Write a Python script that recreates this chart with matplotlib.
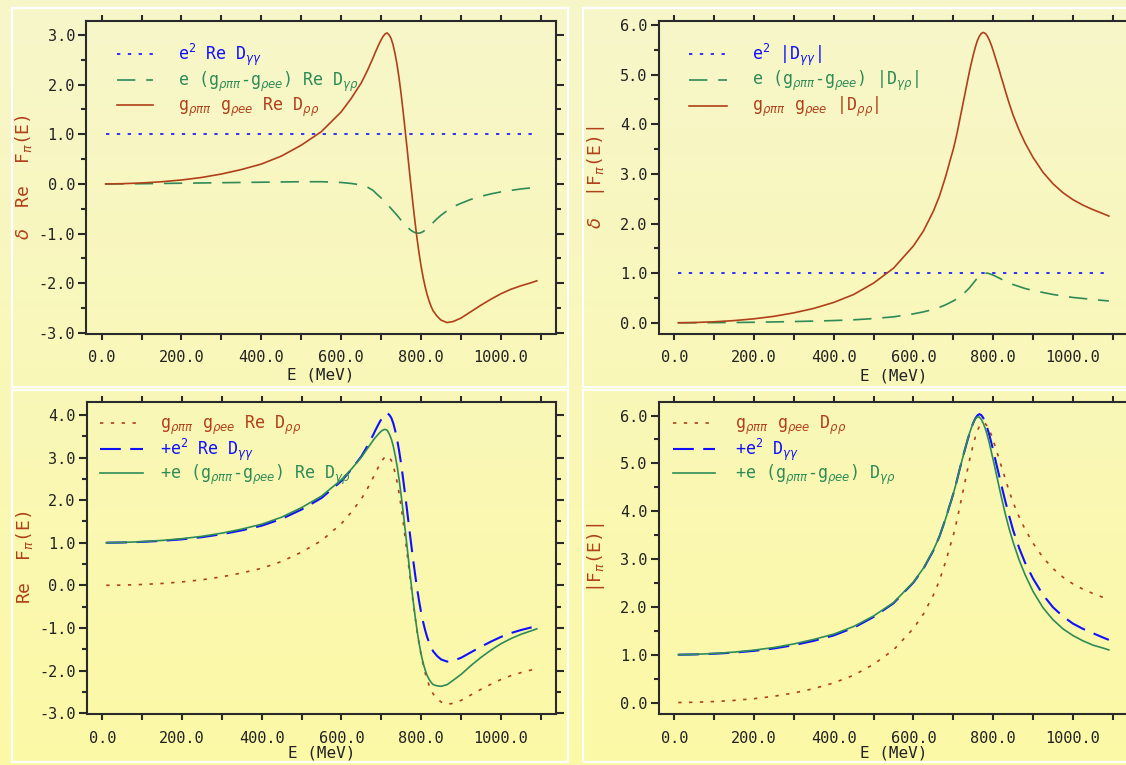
import numpy as np
import matplotlib
matplotlib.use("Agg")
import matplotlib.pyplot as plt
from matplotlib.patches import Rectangle
from matplotlib.ticker import MultipleLocator, FormatStrFormatter

# ---------------- data ----------------
E_MEV = [10, 50, 100, 150, 200, 250, 300, 350, 400, 450, 500, 550, 600, 625, 650, 665,
         680, 685, 690, 695, 700, 705, 710, 715, 720, 725, 730, 735, 740, 745, 750, 755,
         760, 765, 770, 775, 780, 785, 790, 795, 800, 805, 810, 815, 820, 825, 830,
         840, 850, 865, 880, 900, 925, 950, 975, 1000, 1025, 1050, 1075, 1090]

# top-left : delta Re F
re_gg = [1.0] * len(E_MEV)
re_gr = [0.0, 0.002, 0.005, 0.01, 0.015, 0.02, 0.025, 0.03, 0.035, 0.04, 0.045, 0.045, 0.03, 0.01,
         -0.02, -0.06, -0.13, -0.17, -0.21, -0.245, -0.28, -0.32, -0.36, -0.405, -0.45, -0.495,
         -0.54, -0.585, -0.63, -0.68, -0.73, -0.775, -0.82, -0.86, -0.9, -0.935, -0.96, -0.98,
         -0.99, -0.99, -0.98, -0.96, -0.93, -0.9, -0.86, -0.82, -0.78,
         -0.7, -0.63, -0.54, -0.46, -0.39, -0.31, -0.25, -0.2, -0.16, -0.13, -0.1, -0.08, -0.07]
re_rr = [0.0, 0.005, 0.02, 0.044, 0.08, 0.13, 0.2, 0.29, 0.4, 0.56, 0.78, 1.05, 1.45, 1.72,
         2.03, 2.27, 2.54, 2.64, 2.73, 2.82, 2.9, 2.97, 3.02, 3.04, 3.0, 2.93, 2.8, 2.62, 2.4,
         2.13, 1.82, 1.47, 1.1, 0.72, 0.33, -0.05, -0.42, -0.77, -1.1, -1.39, -1.65, -1.87,
         -2.06, -2.22, -2.35, -2.46, -2.55,
         -2.66, -2.74, -2.79, -2.77, -2.7, -2.57, -2.44, -2.32, -2.21, -2.12, -2.05, -1.99, -1.95]

# top-right : delta |F|
abs_gg = [1.0] * len(E_MEV)
abs_gr = [0.0, 0.001, 0.003, 0.006, 0.01, 0.017, 0.025, 0.034, 0.045, 0.06, 0.085, 0.12, 0.18,
          0.22, 0.27, 0.31, 0.36, 0.38, 0.4, 0.42, 0.44, 0.465, 0.49, 0.52, 0.55, 0.585, 0.62,
          0.66, 0.7, 0.75, 0.8, 0.85, 0.9, 0.94, 0.97, 0.99, 1.0, 1.0, 0.99, 0.975, 0.96, 0.94,
          0.92, 0.9, 0.88, 0.86, 0.84,
          0.8, 0.77, 0.73, 0.69, 0.65, 0.61, 0.57, 0.54, 0.51, 0.49, 0.47, 0.45, 0.44]
abs_rr = [0.0, 0.005, 0.02, 0.044, 0.08, 0.13, 0.2, 0.29, 0.41, 0.57, 0.8, 1.1, 1.55, 1.85,
          2.25, 2.55, 2.93, 3.07, 3.22, 3.36, 3.5, 3.67, 3.85, 4.05, 4.25, 4.45, 4.65, 4.85,
          5.05, 5.23, 5.4, 5.55, 5.68, 5.77, 5.83, 5.85, 5.83, 5.78, 5.7, 5.6, 5.48, 5.35, 5.22,
          5.09, 4.95, 4.82, 4.68,
          4.42, 4.18, 3.88, 3.62, 3.33, 3.03, 2.8, 2.62, 2.48, 2.37, 2.28, 2.2, 2.15]

# bottom-left : Re F (cumulative sums)
cum_re_rr = re_rr
cum_re_gg = [1.0, 1.005, 1.02, 1.044, 1.08, 1.13, 1.2, 1.29, 1.4, 1.56, 1.78, 2.05, 2.45, 2.72,
             3.03, 3.27, 3.54, 3.64, 3.73, 3.82, 3.9, 3.97, 4.02, 4.04, 4.0, 3.93, 3.8, 3.62, 3.4,
             3.13, 2.82, 2.47, 2.1, 1.72, 1.33, 0.95, 0.58, 0.23, -0.1, -0.39, -0.65, -0.87,
             -1.06, -1.22, -1.35, -1.46, -1.55,
             -1.66, -1.74, -1.79, -1.77, -1.7, -1.57, -1.44, -1.32, -1.21, -1.12, -1.05, -0.99, -0.95]
cum_re_gr = [1.0, 1.007, 1.025, 1.054, 1.095, 1.15, 1.225, 1.32, 1.435, 1.6, 1.825, 2.095, 2.48,
             2.73, 3.01, 3.21, 3.41, 3.47, 3.52, 3.575, 3.62, 3.65, 3.66, 3.635, 3.55, 3.435, 3.26,
             3.035, 2.77, 2.45, 2.09, 1.695, 1.28, 0.86, 0.43, 0.015, -0.38, -0.75, -1.09, -1.38,
             -1.63, -1.83, -1.99, -2.12, -2.21, -2.28, -2.33,
             -2.36, -2.37, -2.33, -2.23, -2.09, -1.88, -1.69, -1.52, -1.37, -1.25, -1.15, -1.07, -1.02]

# bottom-right : |F| (cumulative sums)
cum_abs_rr = abs_rr
cum_abs_gg = [1.0, 1.005, 1.02, 1.044, 1.08, 1.13, 1.2, 1.29, 1.403, 1.564, 1.789, 2.076, 2.51, 2.8,
              3.18, 3.47, 3.83, 3.96, 4.1, 4.23, 4.37, 4.52, 4.68, 4.85, 5.01, 5.17, 5.32, 5.47,
              5.61, 5.74, 5.85, 5.94, 6.0, 6.03, 6.01, 5.95, 5.86, 5.74, 5.6, 5.44, 5.27, 5.09,
              4.91, 4.74, 4.56, 4.39, 4.22,
              3.9, 3.6, 3.23, 2.92, 2.59, 2.25, 1.99, 1.8, 1.65, 1.54, 1.45, 1.36, 1.31]
cum_abs_gr = [1.0, 1.007, 1.025, 1.054, 1.095, 1.15, 1.225, 1.32, 1.43, 1.59, 1.81, 2.09, 2.52, 2.81,
              3.19, 3.47, 3.83, 3.96, 4.1, 4.23, 4.37, 4.52, 4.68, 4.85, 5.01, 5.17, 5.33, 5.48,
              5.62, 5.74, 5.85, 5.93, 5.97, 5.97, 5.92, 5.84, 5.73, 5.59, 5.43, 5.25, 5.07, 4.88,
              4.69, 4.5, 4.31, 4.13, 3.95,
              3.63, 3.35, 2.98, 2.67, 2.32, 1.98, 1.73, 1.54, 1.4, 1.29, 1.2, 1.14, 1.1]

LEG_TL = [r"e$^2$ Re D$_{\gamma\gamma}$",
          r"e (g$_{\rho\pi\pi}$-g$_{\rho ee}$) Re D$_{\gamma\rho}$",
          r"g$_{\rho\pi\pi}$ g$_{\rho ee}$ Re D$_{\rho\rho}$"]
LEG_TR = [r"e$^2$ |D$_{\gamma\gamma}$|",
          r"e (g$_{\rho\pi\pi}$-g$_{\rho ee}$) |D$_{\gamma\rho}$|",
          r"g$_{\rho\pi\pi}$ g$_{\rho ee}$ |D$_{\rho\rho}$|"]
LEG_BL = [r"g$_{\rho\pi\pi}$ g$_{\rho ee}$ Re D$_{\rho\rho}$",
          r"+e$^2$ Re D$_{\gamma\gamma}$",
          r"+e (g$_{\rho\pi\pi}$-g$_{\rho ee}$) Re D$_{\gamma\rho}$"]
LEG_BR = [r"g$_{\rho\pi\pi}$ g$_{\rho ee}$ D$_{\rho\rho}$",
          r"+e$^2$ D$_{\gamma\gamma}$",
          r"+e (g$_{\rho\pi\pi}$-g$_{\rho ee}$) D$_{\gamma\rho}$"]
YLAB = [r"$\delta$  Re  F$_{\pi}$(E)", r"$\delta$  |F$_{\pi}$(E)|", r"Re  F$_{\pi}$(E)", r"|F$_{\pi}$(E)|"]
XLAB = "E (MeV)"

# ---------------- style ----------------
BLUE = "#1010ff"
GREEN = "#2e8b57"
BROWN = "#b0401a"
AXC = "#2a2a2a"

plt.rcParams["font.family"] = ["DejaVu Sans Mono", "DejaVu Sans"]
plt.rcParams["mathtext.fontset"] = "custom"
plt.rcParams["mathtext.rm"] = "DejaVu Sans Mono"
plt.rcParams["mathtext.it"] = "DejaVu Sans:italic"
plt.rcParams["mathtext.bf"] = "DejaVu Sans:bold"

W, H = 1126, 765
fig = plt.figure(figsize=(W / 100, H / 100), dpi=100)

# background gradient
bg = fig.add_axes([0, 0, 1, 1], zorder=-10)
t = np.linspace(0, 1, 256)[:, None, None]
top = np.array([247, 246, 202]) / 255.0
bot = np.array([252, 249, 166]) / 255.0
bg.imshow(top * (1 - t) + bot * t, aspect="auto", extent=[0, 1, 0, 1])
bg.set_xlim(0, 1); bg.set_ylim(0, 1)
bg.axis("off")


def frac_rect(x0, y0, x1, y1):
    return Rectangle((x0 / W, 1 - y1 / H), (x1 - x0) / W, (y1 - y0) / H,
                     transform=fig.transFigure, fill=False, ec="white", lw=1.6, zorder=-5)


for r in [(12, 8, 568, 386.5), (583, 8, 1140, 386.5), (12, 390, 568, 762), (583, 390, 1140, 762)]:
    fig.patches.append(frac_rect(*r))


def make_ax(left, top_, right, bottom):
    return fig.add_axes([left / W, 1 - bottom / H, (right - left) / W, (bottom - top_) / H])


def style(ax, ylim, ylabel, lab_x, xlab_y):
    ax.patch.set_alpha(0)
    ax.set_xlim(-39, 1138)
    ax.set_ylim(*ylim)
    for s in ax.spines.values():
        s.set_color(AXC)
        s.set_linewidth(1.5)
    ax.xaxis.set_major_locator(MultipleLocator(200))
    ax.xaxis.set_minor_locator(MultipleLocator(100))
    ax.yaxis.set_major_locator(MultipleLocator(1.0))
    ax.yaxis.set_minor_locator(MultipleLocator(0.5))
    ax.xaxis.set_major_formatter(FormatStrFormatter("%.1f"))
    ax.yaxis.set_major_formatter(FormatStrFormatter("%.1f"))
    ax.tick_params(which="both", direction="out", top=True, right=True, color=AXC,
                   width=1.5, labelsize=11, labelcolor="#222222")
    ax.tick_params(axis="x", which="both", length=4, pad=8)
    ax.tick_params(axis="y", which="major", length=6, pad=2)
    ax.tick_params(axis="y", which="minor", length=3.5)
    ax.set_xlabel(XLAB, fontsize=11.5, color="#222222")
    ax.set_ylabel(ylabel, fontsize=13, color=BROWN)
    ax.yaxis.set_label_coords(lab_x, 0.5)
    ax.xaxis.set_label_coords(0.5, xlab_y)


def legend(ax, handles, labels, x, y, hl, pad, sp):
    lg = ax.legend(handles, labels, loc="upper left", bbox_to_anchor=(x, y),
                   frameon=False, fontsize=12, handlelength=hl, handletextpad=pad,
                   labelspacing=sp, borderpad=0, borderaxespad=0)
    for txt, h in zip(lg.get_texts(), handles):
        txt.set_color(h.get_color())


lw = 1.2
DOT = (0, (2, 4.5))
DASH = (0, (11, 6.5))
DASH_B = (0, (10, 4.5))

# ---- top-left
ax1 = make_ax(86, 21, 556, 333.5)
style(ax1, (-3.01, 3.28), YLAB[0], -0.11, -0.11)
l1, = ax1.plot(E_MEV, re_gg, color=BLUE, lw=lw, ls=DOT)
l2, = ax1.plot(E_MEV, re_gr, color=GREEN, lw=lw, ls=DASH)
l3, = ax1.plot(E_MEV, re_rr, color=BROWN, lw=lw)
legend(ax1, [l1, l2, l3], LEG_TL, 0.066, 0.935, 2.15, 1.5, 0.12)

# ---- top-right
ax2 = make_ax(658.7, 21, 1128, 333.7)
style(ax2, (-0.22, 6.08), YLAB[1], -0.11, -0.11)
m1, = ax2.plot(E_MEV, abs_gg, color=BLUE, lw=lw, ls=DOT)
m2, = ax2.plot(E_MEV, abs_gr, color=GREEN, lw=lw, ls=DASH)
m3, = ax2.plot(E_MEV, abs_rr, color=BROWN, lw=lw)
legend(ax2, [m1, m2, m3], LEG_TR, 0.0646, 0.935, 2.28, 1.5, 0.1)

# ---- bottom-left
ax3 = make_ax(86.7, 401.7, 556, 714)
style(ax3, (-3.02, 4.31), YLAB[2], -0.11, -0.1)
n1, = ax3.plot(E_MEV, cum_re_rr, color=BROWN, lw=lw, ls=DOT)
n2, = ax3.plot(E_MEV, cum_re_gg, color=BLUE, lw=1.5, ls=DASH_B)
n3, = ax3.plot(E_MEV, cum_re_gr, color=GREEN, lw=lw)
legend(ax3, [n1, n2, n3], LEG_BL, 0.028, 0.962, 2.58, 1.0, 0.0)

# ---- bottom-right
ax4 = make_ax(658.7, 401.7, 1128, 714)
style(ax4, (-0.24, 6.29), YLAB[3], -0.11, -0.1)
p1, = ax4.plot(E_MEV, cum_abs_rr, color=BROWN, lw=lw, ls=DOT)
p2, = ax4.plot(E_MEV, cum_abs_gg, color=BLUE, lw=1.5, ls=DASH_B)
p3, = ax4.plot(E_MEV, cum_abs_gr, color=GREEN, lw=lw)
legend(ax4, [p1, p2, p3], LEG_BR, 0.030, 0.962, 2.52, 1.2, 0.0)

fig.savefig("out.png", dpi=100)
